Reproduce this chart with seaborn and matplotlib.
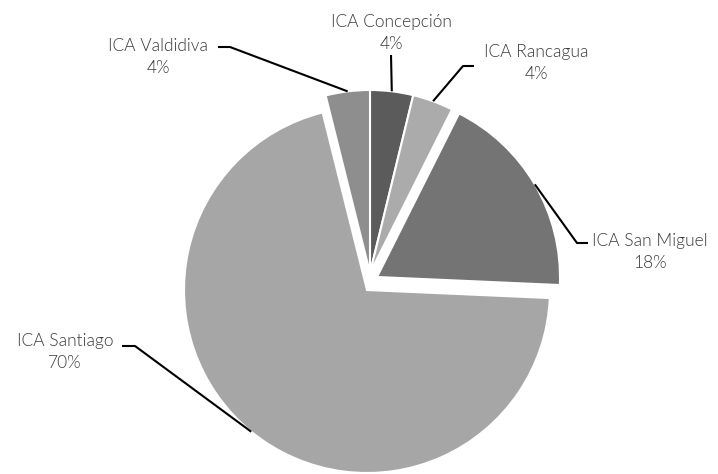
import matplotlib
matplotlib.use("Agg")
import matplotlib.pyplot as plt
import numpy as np
import seaborn as sns

# data (clockwise from 12 o'clock)
labels = ["ICA Concepción", "ICA Rancagua", "ICA San Miguel", "ICA Santiago", "ICA Valdidiva"]
shares = [3.8, 3.6, 18.3, 70.4, 3.9]
colors = ["#5b5b5b", "#ababab", "#747474", "#a6a6a6", "#8e8e8e"]
# slice offsets in pixels (dx, dy), Excel style pulled-out slices
offsets = [(0, 0), (0, 0), (7, -4), (-3, -17), (0, 0)]

sns.set_style("white")
plt.rcParams["font.family"] = ["Lato", "DejaVu Sans"]

W, H = 718, 474
cx, cy, R = 370, H - 273, 183

fig = plt.figure(figsize=(W / 100, H / 100), dpi=100)
ax = fig.add_axes([0, 0, 1, 1])
wedges, _ = ax.pie(shares, colors=colors, startangle=90,
                   counterclock=False, center=(cx, cy), radius=R,
                   wedgeprops=dict(edgecolor="white", linewidth=1.5))
for w, (dx, dy) in zip(wedges, offsets):
    w.set_center((w.center[0] + dx, w.center[1] + dy))
ax.set_xlim(0, W)
ax.set_ylim(0, H)
ax.set_aspect("equal")
ax.axis("off")

# label layout in pixel coords: text centre, elbow points of the leader
layout = {
    "ICA Concepción": ((391, 33), [(391, 55)]),
    "ICA Rancagua": ((536, 63), [(463, 66), (474, 66)]),
    "ICA Valdidiva": ((158, 57), [(230, 47), (218, 47)]),
    "ICA San Miguel": ((650, 252), [(577, 243), (588, 243)]),
    "ICA Santiago": ((65, 352), [(135, 346), (122, 346)]),
}

total = sum(shares)
for w, lab, val in zip(wedges, labels, shares):
    mid = np.deg2rad((w.theta1 + w.theta2) / 2)
    px = w.center[0] + R * np.cos(mid)
    py = w.center[1] + R * np.sin(mid)
    (tx, ty), elbows = layout[lab]
    xs = [px] + [e[0] for e in elbows]
    ys = [py] + [H - e[1] for e in elbows]
    ax.plot(xs, ys, color="black", lw=1.5, solid_capstyle="butt")
    pct = f"{round(val / total * 100):.0f}%"
    ax.text(tx, H - ty, f"{lab}\n{pct}", ha="center", va="center",
            fontsize=12.5, fontweight=300, color="#3a3a3a", linespacing=1.45)

fig.savefig("out.png", dpi=100)
